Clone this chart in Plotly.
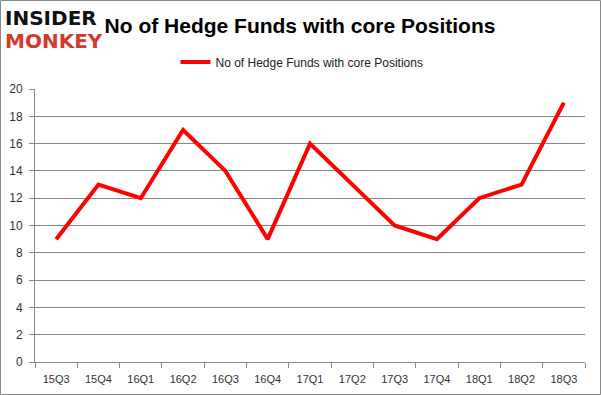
import plotly.graph_objects as go

quarters = ["15Q3", "15Q4", "16Q1", "16Q2", "16Q3", "16Q4", "17Q1", "17Q2", "17Q3", "17Q4", "18Q1", "18Q2", "18Q3"]
funds = [9, 13, 12, 17, 14, 9, 16, 13, 10, 9, 12, 13, 19]
series_name = "No of Hedge Funds with core Positions"
title_text = "No of Hedge Funds with core Positions"

W, H = 601, 395
ml, mr, mt, mb = 35, 16, 89, 33
pw, ph = W - ml - mr, H - mt - mb

fig = go.Figure()
fig.add_trace(go.Scatter(
    x=quarters, y=funds, mode="lines", name=series_name,
    line=dict(color="#ff0000", width=4),
))

def px_x(x):
    return (x - ml) / pw

def px_y(y):
    return (H - mb - y) / ph

fig.update_layout(
    width=W, height=H,
    margin=dict(l=ml, r=mr, t=mt, b=mb, autoexpand=False),
    paper_bgcolor="white", plot_bgcolor="white",
    font=dict(family="Liberation Sans, Arial, sans-serif", size=11, color="#333333"),
    title=dict(text="<b>" + title_text + "</b>", x=300 / W, xanchor="center", xref="container",
               y=1 - 26 / H, yanchor="middle", yref="container",
               font=dict(family="Liberation Sans, Arial, sans-serif", size=21, color="black")),
    showlegend=True,
    legend=dict(orientation="h", x=px_x(302), xanchor="center", y=px_y(62), yanchor="middle",
                yref="paper", font=dict(size=12, color="#222222"), bgcolor="rgba(0,0,0,0)"),
    xaxis=dict(type="category", range=[-0.5, 12.5], showgrid=False, showline=True,
               linecolor="#898989", linewidth=1, ticks="outside", tickson="boundaries",
               ticklen=5, tickcolor="#898989", tickfont=dict(size=11, color="#333333"),
               ticklabelstandoff=7, fixedrange=True),
    yaxis=dict(range=[0, 20], dtick=2, showgrid=True, gridcolor="#868686", gridwidth=1,
               showline=True, linecolor="#898989", linewidth=1, ticks="outside", ticklen=5,
               tickcolor="#898989", zeroline=False, tickfont=dict(size=12, color="#333333"),
               ticklabelstandoff=4, fixedrange=True),
)

# outer border
fig.add_shape(type="rect", xref="paper", yref="paper",
              x0=px_x(0.5), x1=px_x(W - 0.5), y0=px_y(H - 0.5), y1=px_y(0.5),
              line=dict(color="#898989", width=1), fillcolor="rgba(0,0,0,0)", layer="below")

# logo
fig.add_annotation(text="<b>INSIDER</b>", xref="paper", yref="paper", x=px_x(3), y=px_y(18),
                   xanchor="left", yanchor="middle", showarrow=False,
                   font=dict(family="DejaVu Sans, sans-serif", size=20, color="#111111"))
fig.add_annotation(text="<b>MONKEY</b>", xref="paper", yref="paper", x=px_x(3), y=px_y(41),
                   xanchor="left", yanchor="middle", showarrow=False,
                   font=dict(family="DejaVu Sans, sans-serif", size=20, color="#d23a2a"))

fig.write_html("out.html", config={"displayModeBar": False},
               post_script="document.body.style.margin='0';")
